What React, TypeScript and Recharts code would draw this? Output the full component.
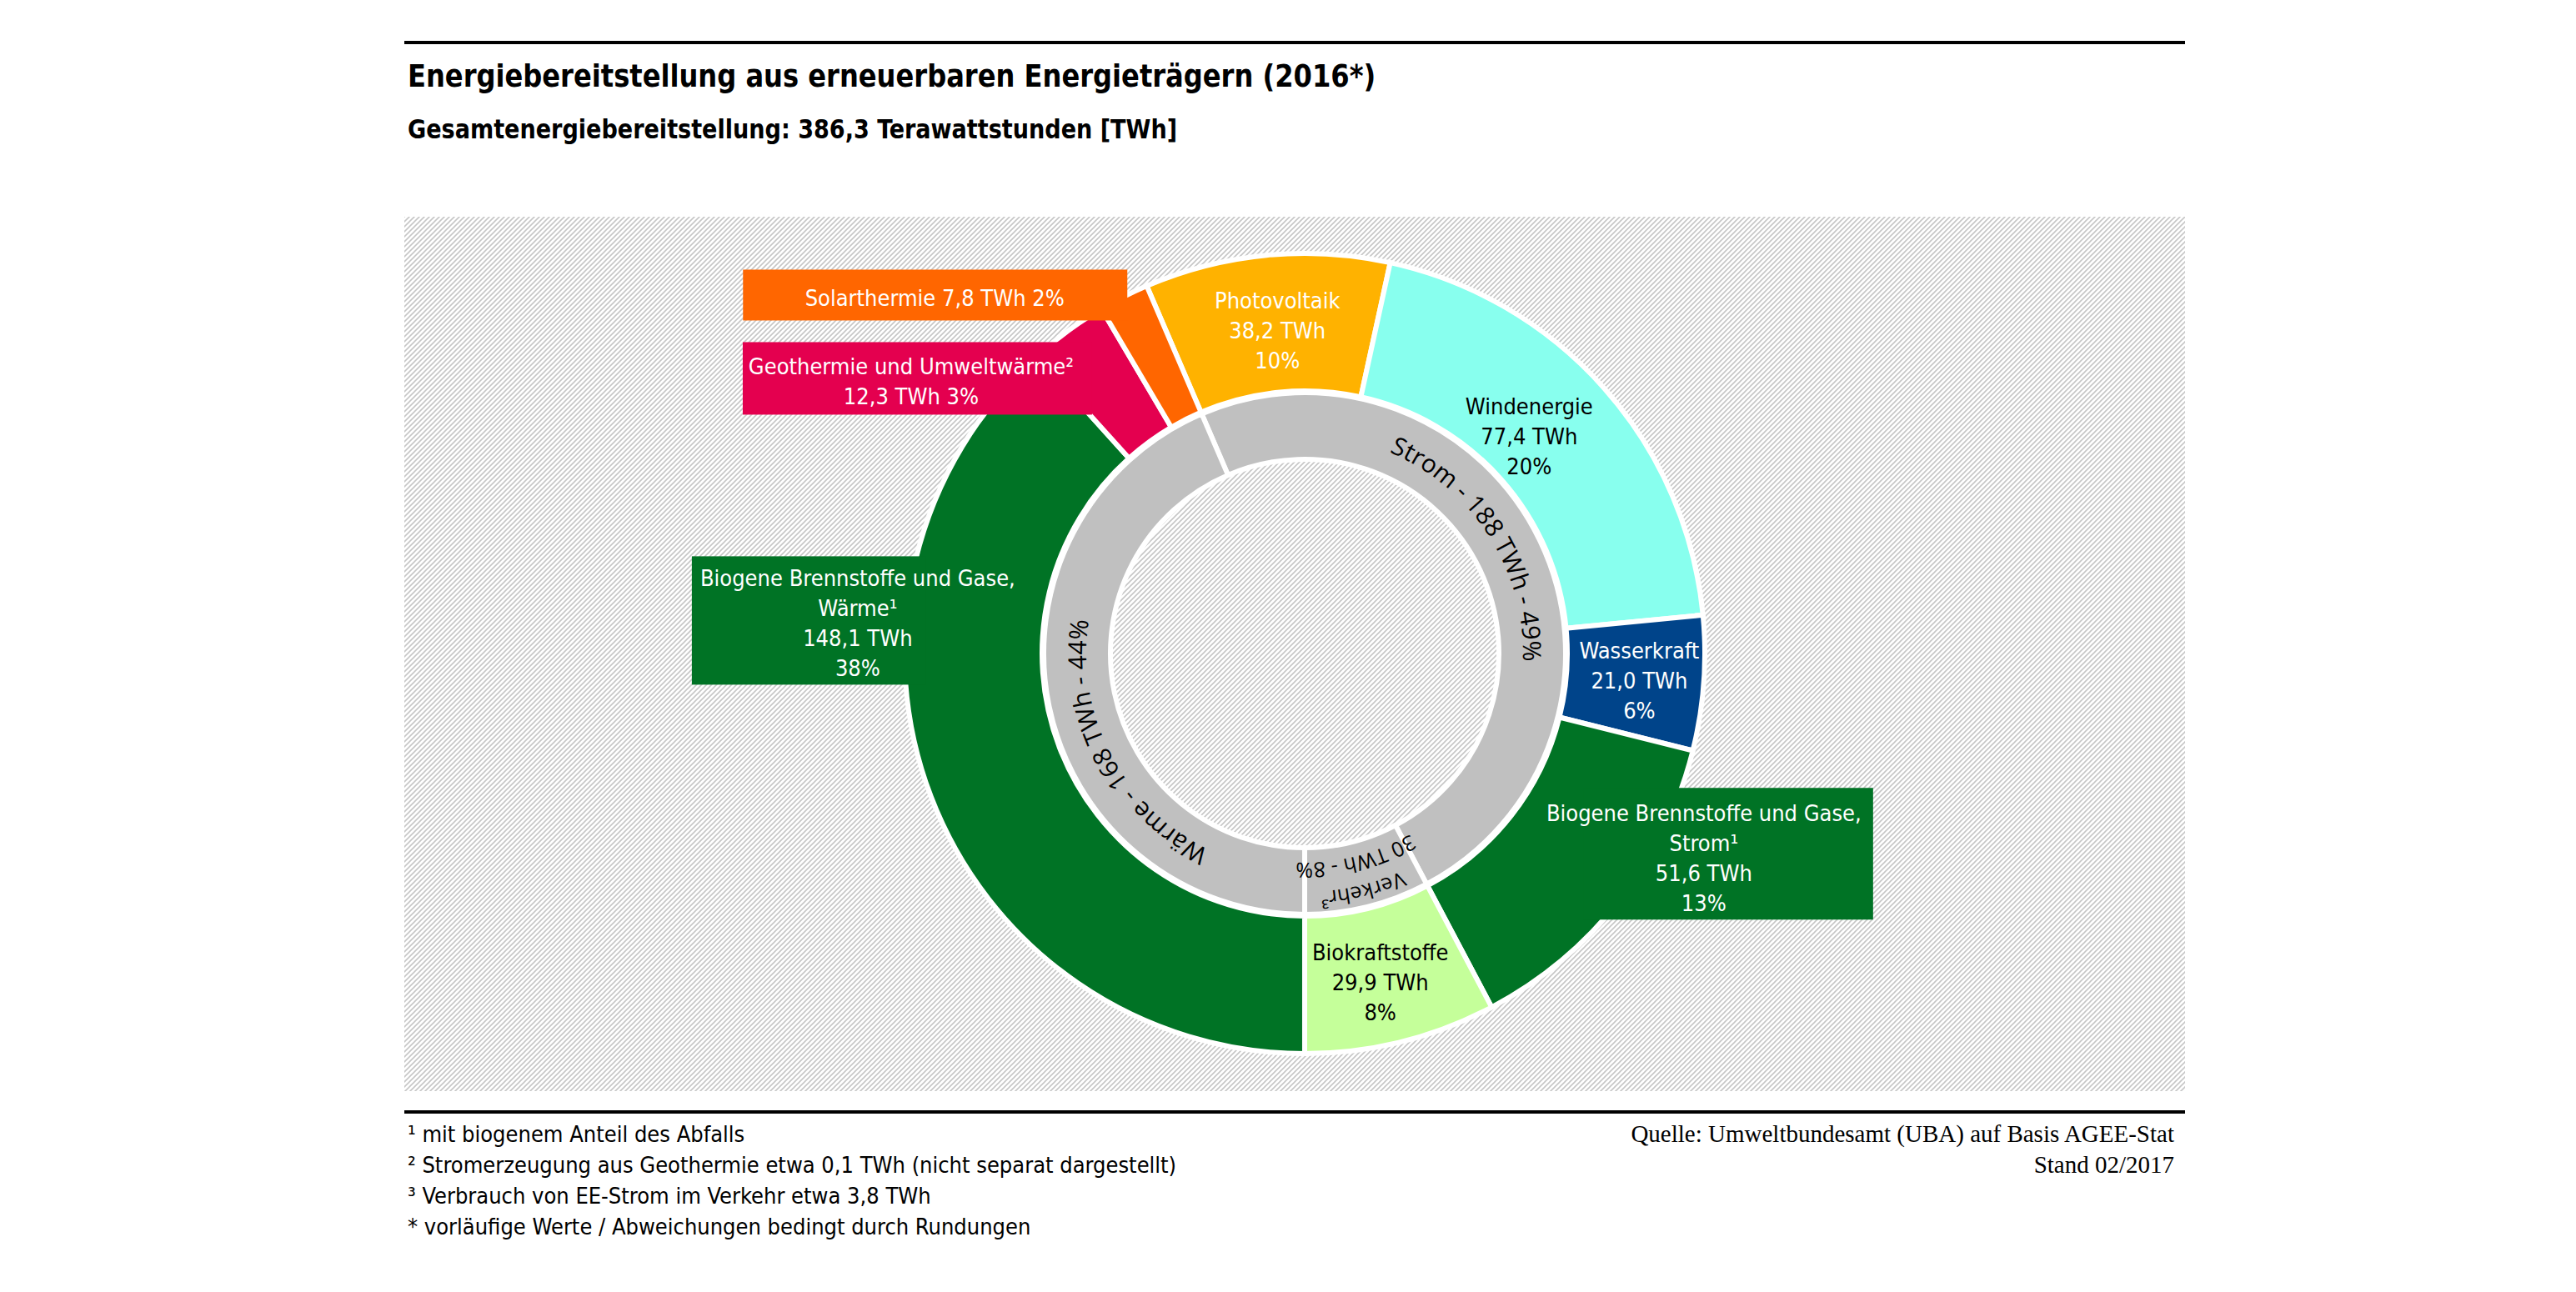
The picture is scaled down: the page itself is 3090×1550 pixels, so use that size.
import React from 'react';
import { PieChart, Pie, Cell } from 'recharts';

// ── Data ──────────────────────────────────────────────────────────────────────

const OUTER_TITLES = [
  ['Photovoltaik'],
  ['Windenergie'],
  ['Wasserkraft'],
  ['Biogene Brennstoffe und Gase,', 'Strom¹'],
  ['Biokraftstoffe'],
  ['Biogene Brennstoffe und Gase,', 'Wärme¹'],
  ['Geothermie und Umweltwärme²'],
  ['Solarthermie'],
];
const OUTER_VALUES = [38.2, 77.4, 21.0, 51.6, 29.9, 148.1, 12.3, 7.8];
const OUTER_PERCENT = [10, 20, 6, 13, 8, 38, 3, 2];

const INNER_NAMES = ['Strom', 'Verkehr³', 'Wärme'];
const INNER_VALUES = [188.2, 29.9, 168.2];
const INNER_TWH = [188, 30, 168];
const INNER_PERCENT = [49, 8, 44];

const FOOTNOTES = [
  '¹ mit biogenem Anteil des Abfalls',
  '² Stromerzeugung aus Geothermie etwa 0,1 TWh (nicht separat dargestellt)',
  '³ Verbrauch von EE-Strom im Verkehr etwa 3,8 TWh',
  '* vorläufige Werte / Abweichungen bedingt durch Rundungen',
];

// ── Styles ────────────────────────────────────────────────────────────────────

const OUTER_COLORS = ['#FFB200', '#88FFEE', '#00448A', '#007325', '#C5FF9A', '#007325', '#E4004F', '#FF6600'];
const GRAY = '#C0C0C0';
const NARROW = "'DejaVu Sans Condensed', 'Liberation Sans', sans-serif";
const RING_FONT = "'Open Sans', 'DejaVu Sans', sans-serif";

// hatched backdrop, a 6px tile with one diagonal line
const HATCH = "url(\"data:image/svg+xml,%3Csvg xmlns='http://www.w3.org/2000/svg' width='6' height='6'%3E%3Cpath d='M-1,1 l2,-2 M0,6 l6,-6 M5,7 l2,-2' stroke='%23c6c6c6' stroke-width='1.6'/%3E%3C/svg%3E\")";

// label placement relative to the middle of each outer slice
type Lay = { dx: number; dy: number; color: string; mode: 'stack' | 'pair' | 'single'; box?: number[] };
const OUTER_LAYOUT: Lay[] = [
  { dx: 5, dy: 8, color: '#fff', mode: 'stack' },
  { dx: -28, dy: 3, color: '#000', mode: 'stack' },
  { dx: 5, dy: 3, color: '#fff', mode: 'stack' },
  { dx: 166, dy: 0, color: '#fff', mode: 'stack', box: [22, -84, 347, 158] },
  { dx: -5, dy: 8, color: '#000', mode: 'stack' },
  { dx: -165, dy: -179, color: '#fff', mode: 'stack', box: [-364, -259, 281, 154] },
  { dx: -237, dy: -6, color: '#fff', mode: 'pair', box: [-439, -53, 419, 87] },
  { dx: -264, dy: -72, color: '#fff', mode: 'single', box: [-494, -106, 461, 61] },
];
const INNER_SHIFT = [-7, 0, -16];

const RAD = Math.PI / 180;
const fmt = (v: number) => v.toFixed(1).replace('.', ',');

const outerData = OUTER_VALUES.map((value, i) => ({ name: OUTER_TITLES[i].join(' '), value }));
const innerData = INNER_VALUES.map((value, i) => ({ name: INNER_NAMES[i], value }));

function outerLines(i: number, mode: Lay['mode']) {
  const t = OUTER_TITLES[i];
  const v = `${fmt(OUTER_VALUES[i])} TWh`;
  const p = `${OUTER_PERCENT[i]}%`;
  if (mode === 'single') return [`${t.join(' ')} ${v} ${p}`];
  if (mode === 'pair') return [...t, `${v} ${p}`];
  return [...t, v, p];
}

function renderOuterLabel(props: any) {
  const { cx, cy, midAngle, innerRadius, outerRadius, index } = props;
  const r = (innerRadius + outerRadius) / 2;
  const ax = cx + r * Math.cos(-midAngle * RAD);
  const ay = cy + r * Math.sin(-midAngle * RAD);
  const lay = OUTER_LAYOUT[index];
  const lines = outerLines(index, lay.mode);
  const fs = 27;
  const lh = 36;
  const tx = ax + lay.dx;
  const ty = ay + lay.dy;
  return (
    <g key={`ol-${index}`}>
      {lay.box && (
        <rect x={ax + lay.box[0]} y={ay + lay.box[1]} width={lay.box[2]} height={lay.box[3]} fill={OUTER_COLORS[index]} />
      )}
      <text textAnchor="middle" fill={lay.color} style={{ fontFamily: NARROW, fontSize: fs }}>
        {lines.map((l, k) => (
          <tspan key={k} x={tx} y={ty + (k - (lines.length - 1) / 2) * lh + fs * 0.36}>{l}</tspan>
        ))}
      </text>
    </g>
  );
}

// arc running clockwise, angles measured clockwise from 12 o'clock
function arcPath(cx: number, cy: number, r: number, a0: number, a1: number) {
  const x0 = cx + r * Math.sin(a0 * RAD), y0 = cy - r * Math.cos(a0 * RAD);
  const x1 = cx + r * Math.sin(a1 * RAD), y1 = cy - r * Math.cos(a1 * RAD);
  return `M ${x0} ${y0} A ${r} ${r} 0 ${a1 - a0 > 180 ? 1 : 0} 1 ${x1} ${y1}`;
}

function renderInnerLabel(props: any) {
  const { cx, cy, midAngle, index } = props;
  const c = 90 - midAngle + INNER_SHIFT[index];
  const twh = `${INNER_TWH[index]} TWh - ${INNER_PERCENT[index]}%`;
  const rows = index === 1
    ? [{ t: INNER_NAMES[index], r: 286, fs: 25, span: 30 }, { t: twh, r: 251, fs: 25, span: 30 }]
    : [{ t: `${INNER_NAMES[index]} - ${twh}`, r: 262, fs: 30, span: 100 }];
  return (
    <g key={`il-${index}`}>
      {rows.map((row, k) => {
        const id = `ring-arc-${index}-${k}`;
        return (
          <g key={id}>
            <path id={id} d={arcPath(cx, cy, row.r, c - row.span, c + row.span)} fill="none" stroke="none" />
            <text fill="#000" style={{ fontFamily: RING_FONT, fontSize: row.fs }}>
              <textPath href={`#${id}`} startOffset="50%" textAnchor="middle">{row.t}</textPath>
            </text>
          </g>
        );
      })}
    </g>
  );
}

// ── Page ──────────────────────────────────────────────────────────────────────

const PANEL = { left: 485, top: 260, width: 2136, height: 1049 };
const START = 113.25;

export default function App() {
  return (
    <div style={{ position: 'absolute', left: 0, top: 0, width: 3090, height: 1550, background: '#fff', overflow: 'hidden' }}>
      <div style={{ position: 'absolute', left: 485, top: 49, width: 2136, height: 4, background: '#000' }} />
      <div style={{ position: 'absolute', left: 489, top: 68, fontFamily: NARROW, fontWeight: 700, fontSize: 38, lineHeight: '46px', whiteSpace: 'nowrap', transform: 'scaleX(0.94)', transformOrigin: 'left top' }}>
        Energiebereitstellung aus erneuerbaren Energieträgern (2016*)
      </div>
      <div style={{ position: 'absolute', left: 489, top: 135, fontFamily: NARROW, fontWeight: 700, fontSize: 32, lineHeight: '40px', whiteSpace: 'nowrap', transform: 'scaleX(0.94)', transformOrigin: 'left top' }}>
        Gesamtenergiebereitstellung: 386,3 Terawattstunden [TWh]
      </div>

      <div style={{ position: 'absolute', ...PANEL, backgroundColor: '#fff', backgroundImage: HATCH }}>
        <PieChart width={PANEL.width} height={PANEL.height} margin={{ top: 0, right: 0, bottom: 0, left: 0 }}>
          <Pie
            data={innerData}
            dataKey="value"
            cx={1080}
            cy={524}
            innerRadius={233}
            outerRadius={313}
            startAngle={START}
            endAngle={START - 360}
            stroke="#fff"
            strokeWidth={6}
            fill={GRAY}
            label={renderInnerLabel}
            labelLine={false}
            isAnimationActive={false}
          >
            {innerData.map((d) => <Cell key={d.name} fill={GRAY} />)}
          </Pie>
          <Pie
            data={outerData}
            dataKey="value"
            cx={1080}
            cy={524}
            innerRadius={315}
            outerRadius={480}
            startAngle={START}
            endAngle={START - 360}
            stroke="#fff"
            strokeWidth={6}
            label={renderOuterLabel}
            labelLine={false}
            isAnimationActive={false}
          >
            {outerData.map((d, i) => <Cell key={d.name} fill={OUTER_COLORS[i]} />)}
          </Pie>
        </PieChart>
      </div>

      <div style={{ position: 'absolute', left: 485, top: 1332, width: 2136, height: 4, background: '#000' }} />
      <div style={{ position: 'absolute', left: 489, top: 1342, fontFamily: NARROW, fontSize: 27, lineHeight: '37px', whiteSpace: 'nowrap' }}>
        {FOOTNOTES.map((f) => <div key={f}>{f}</div>)}
      </div>
      <div style={{ position: 'absolute', right: 3090 - 2608, top: 1342, fontFamily: "'Liberation Serif', serif", fontSize: 29, lineHeight: '37px', textAlign: 'right', whiteSpace: 'nowrap' }}>
        <div>Quelle: Umweltbundesamt (UBA) auf Basis AGEE-Stat</div>
        <div>Stand 02/2017</div>
      </div>
    </div>
  );
}
